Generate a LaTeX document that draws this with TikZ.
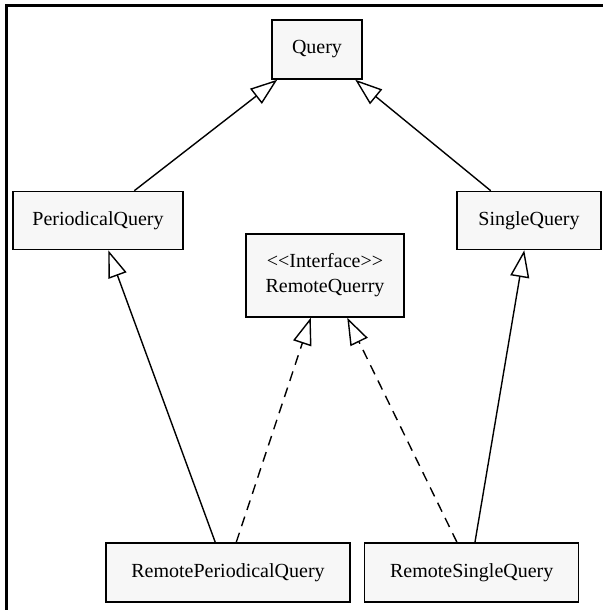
\documentclass[tikz,border=0pt]{standalone}
\usepackage{fontspec}
\setmainfont{Liberation Serif}
\usetikzlibrary{arrows.meta}
\begin{document}
\begin{tikzpicture}[x=1pt,y=-1pt,
  cls/.style={draw=black, line width=1.5pt, fill=black!3, inner sep=0pt,
    font=\fontsize{20}{24}\selectfont, align=center},
  gen/.style={line width=1.4pt, -{Triangle[length=27pt,width=19pt,fill=white,line width=1.4pt]}},
  real/.style={gen, dash pattern=on 10pt off 7pt}]
\useasboundingbox (0,0) rectangle (603,610);
\draw[line width=3pt] (6,610) -- (6,5.5) -- (603,5.5);
\node[cls, minimum width=90pt, minimum height=59pt] (q) at (317,49.5) {Query};
\node[cls, minimum width=170pt, minimum height=58pt] (pq) at (98,220.5) {PeriodicalQuery};
\node[cls, minimum width=144pt, minimum height=58pt] (sq) at (529,220.5) {SingleQuery};
\node[cls, minimum width=158pt, minimum height=83pt] (rq) at (325,275.5) {\textless{}\textless{}Interface\textgreater{}\textgreater{}\\[1pt]RemoteQuerry};
\node[cls, minimum width=244pt, minimum height=59pt] (rpq) at (228,572.5) {RemotePeriodicalQuery};
\node[cls, minimum width=214pt, minimum height=59pt] (rsq) at (471.7,572.5) {RemoteSingleQuery};
\draw[gen] ([xshift=122pt]pq.north west) -- ([xshift=6pt]q.south west);
\draw[gen] ([xshift=34.5pt]sq.north west) -- ([xshift=-7.5pt]q.south east);
\draw[gen] ([xshift=110pt]rpq.north west) -- ([xshift=96pt]pq.south west);
\draw[real] ([xshift=131pt]rpq.north west) -- ([xshift=65.5pt]rq.south west);
\draw[real] ([xshift=93pt]rsq.north west) -- ([xshift=102pt]rq.south west);
\draw[gen] ([xshift=111pt]rsq.north west) -- ([xshift=68pt]sq.south west);
\end{tikzpicture}
\end{document}
